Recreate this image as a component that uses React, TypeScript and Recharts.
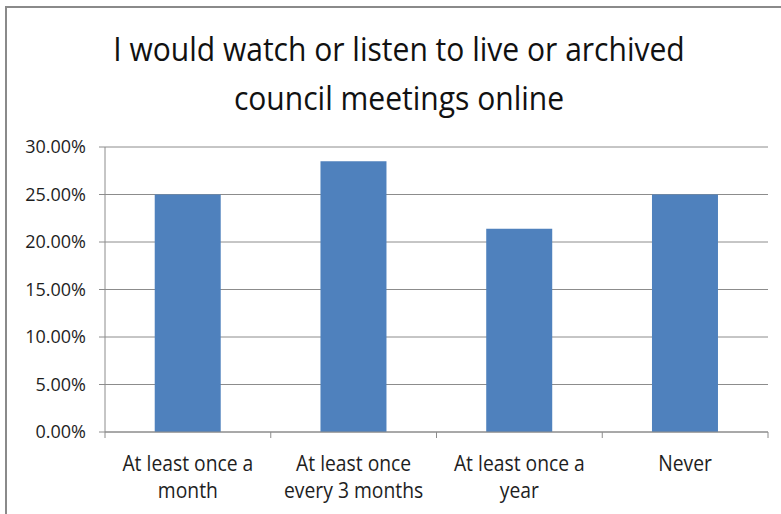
import React from 'react';
import { BarChart, Bar, XAxis, YAxis, CartesianGrid } from 'recharts';

const categories = [
  'At least once a\nmonth',
  'At least once\nevery 3 months',
  'At least once a\nyear',
  'Never',
];
const values = [25.0, 28.5, 21.4, 25.0];
const yTicks = [0, 5, 10, 15, 20, 25, 30];
const titleLines = ['I would watch or listen to live or archived', 'council meetings online'];

const data = categories.map((c, i) => ({ category: c, value: values[i] }));

const FONT = '"Open Sans", Lato, sans-serif';
const GRID = '#8c8c8c';
const TEXT = '#1e1e1e';
const X_TICK_SIZE = 6;
const X_TICK_MARGIN = 14;
const X_SCALE = 0.92;

function XTick(props: any) {
  const { x, y, payload, index, visibleTicksCount } = props;
  const half = payload && payload.offset ? payload.offset : 0;
  const axisY = y - X_TICK_SIZE - X_TICK_MARGIN;
  const lines = String(payload.value).split('\n');
  const isLast = index === visibleTicksCount - 1;
  return (
    <g>
      <line x1={x - half} x2={x - half} y1={axisY} y2={axisY + X_TICK_SIZE} stroke={GRID} strokeWidth={1} />
      {isLast && (
        <line x1={x + half} x2={x + half} y1={axisY} y2={axisY + X_TICK_SIZE} stroke={GRID} strokeWidth={1} />
      )}
      <text
        x={x}
        y={y}
        textAnchor="middle"
        fill={TEXT}
        fontSize={21}
        fontFamily={FONT}
        transform={`translate(${x} 0) scale(${X_SCALE} 1) translate(${-x} 0)`}
      >
        {lines.map((l, i) => (
          <tspan key={i} x={x} dy={i === 0 ? 19 : 27}>
            {l}
          </tspan>
        ))}
      </text>
    </g>
  );
}

export default function App() {
  return (
    <div style={{ position: 'absolute', left: 0, top: 0, width: 781, height: 514, overflow: 'hidden', background: '#fff' }}>
      <div
        style={{
          position: 'absolute',
          left: 5,
          top: 6,
          width: 790,
          height: 520,
          borderTop: '2px solid #8a8a8a',
          borderLeft: '2px solid #8a8a8a',
        }}
      />
      <div
        style={{
          position: 'absolute',
          left: 0,
          top: 24,
          width: 798,
          textAlign: 'center',
          fontFamily: FONT,
          fontSize: 33,
          lineHeight: '49px',
          color: '#111',
          transform: 'scale(0.91, 1)',
          transformOrigin: '399px 0px',
        }}
      >
        {titleLines.map((t, i) => (
          <div key={i}>{t}</div>
        ))}
      </div>
      <div style={{ position: 'absolute', left: 0, top: 0 }}>
        <BarChart
          width={781}
          height={514}
          data={data}
          margin={{ top: 147, right: 13, bottom: 22, left: 0 }}
          barCategoryGap="30%"
        >
          <CartesianGrid horizontal vertical={false} stroke={GRID} strokeWidth={1} />
          <XAxis
            dataKey="category"
            interval={0}
            height={60}
            axisLine={{ stroke: GRID }}
            tickLine={false}
            tickSize={X_TICK_SIZE}
            tickMargin={X_TICK_MARGIN}
            tick={<XTick />}
          />
          <YAxis
            width={105}
            domain={[0, 30]}
            ticks={yTicks}
            interval={0}
            axisLine={{ stroke: GRID }}
            tickLine={{ stroke: GRID }}
            tickSize={6}
            tickMargin={13}
            tickFormatter={(v: number) => `${v.toFixed(2)}%`}
            tick={{ fill: TEXT, fontSize: 18, fontFamily: FONT }}
          />
          <Bar dataKey="value" fill="#4f81bd" isAnimationActive={false} />
        </BarChart>
      </div>
    </div>
  );
}
